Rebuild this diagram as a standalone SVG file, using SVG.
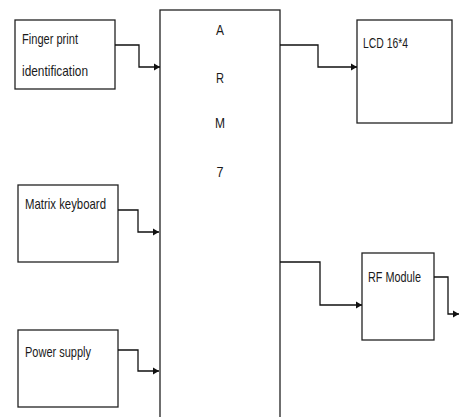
<svg xmlns="http://www.w3.org/2000/svg" width="459" height="417" viewBox="0 0 459 417">
<defs>
<style>
.box{fill:#fff;stroke:#222;stroke-width:1.3}
.c{fill:none;stroke:#111;stroke-width:1.3}
text{font-family:"Liberation Sans",Arial,sans-serif;font-size:15px;fill:#1a1a1a}
.arm{text-anchor:middle;font-size:15px}
</style>
<marker id="ah" markerWidth="8" markerHeight="8" refX="6" refY="4" orient="auto" markerUnits="userSpaceOnUse">
<path d="M0,0.5 L6,4 L0,7.5 Z" fill="#111"/>
</marker>
</defs>
<rect width="459" height="417" fill="#fff"/>
<g id="arm">
<rect class="box" x="160" y="10" width="120" height="408"/>
<text class="arm" x="220" y="35" textLength="8" lengthAdjust="spacingAndGlyphs">A</text>
<text class="arm" x="220" y="83" textLength="8" lengthAdjust="spacingAndGlyphs">R</text>
<text class="arm" x="220" y="128" textLength="10" lengthAdjust="spacingAndGlyphs">M</text>
<text class="arm" x="220" y="177" textLength="7" lengthAdjust="spacingAndGlyphs">7</text>
</g>
<g id="finger">
<rect class="box" x="15" y="20" width="100" height="69"/>
<text x="22" y="44" textLength="56" lengthAdjust="spacingAndGlyphs">Finger print</text>
<text x="22" y="76" textLength="66" lengthAdjust="spacingAndGlyphs">identification</text>
</g>
<g id="keyboard">
<rect class="box" x="18" y="185" width="100" height="77"/>
<text x="25" y="209" textLength="81" lengthAdjust="spacingAndGlyphs">Matrix keyboard</text>
</g>
<g id="power">
<rect class="box" x="18" y="330" width="100" height="77"/>
<text x="25" y="357" textLength="66" lengthAdjust="spacingAndGlyphs">Power supply</text>
</g>
<g id="lcd">
<rect class="box" x="357" y="20" width="95" height="103"/>
<text x="363" y="48" textLength="45" lengthAdjust="spacingAndGlyphs">LCD 16*4</text>
</g>
<g id="rf">
<rect class="box" x="362" y="253" width="72" height="87"/>
<text x="368" y="282" textLength="53" lengthAdjust="spacingAndGlyphs">RF Module</text>
</g>
<g id="connectors">
<path class="c" d="M115,45 H139 V67 H160" marker-end="url(#ah)"/>
<path class="c" d="M118,210 H138 V232 H159" marker-end="url(#ah)"/>
<path class="c" d="M118,350 H138 V371 H159" marker-end="url(#ah)"/>
<path class="c" d="M280,45 H318 V67 H357" marker-end="url(#ah)"/>
<path class="c" d="M280,262 H320 V305 H362" marker-end="url(#ah)"/>
<path class="c" d="M434,277 H448 V314 H459" marker-end="url(#ah)"/>
</g>
</svg>
